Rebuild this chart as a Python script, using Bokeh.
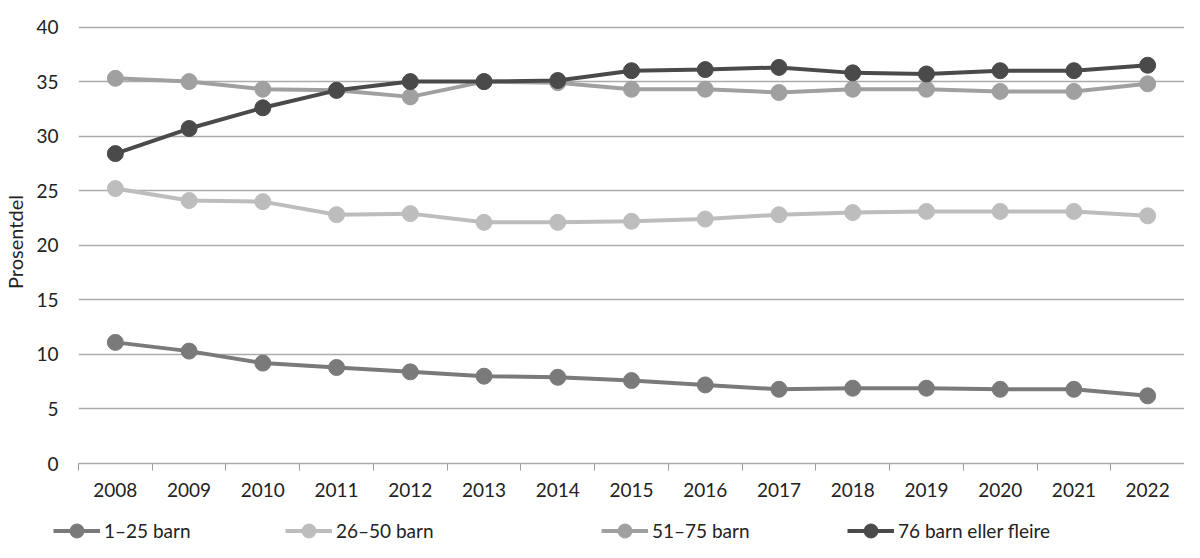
from bokeh.plotting import figure
from bokeh.models import FixedTicker, Range1d, Legend, LegendItem
from bokeh.layouts import column
from bokeh.embed import file_html
from bokeh.resources import INLINE

years = list(range(2008, 2023))
s1_25 = [11.1, 10.3, 9.2, 8.8, 8.4, 8.0, 7.9, 7.6, 7.2, 6.8, 6.9, 6.9, 6.8, 6.8, 6.2]
s26_50 = [25.2, 24.1, 24.0, 22.8, 22.9, 22.1, 22.1, 22.2, 22.4, 22.8, 23.0, 23.1, 23.1, 23.1, 22.7]
s51_75 = [35.3, 35.0, 34.3, 34.2, 33.6, 35.0, 34.9, 34.3, 34.3, 34.0, 34.3, 34.3, 34.1, 34.1, 34.8]
s76 = [28.4, 30.7, 32.6, 34.2, 35.0, 35.0, 35.1, 36.0, 36.1, 36.3, 35.8, 35.7, 36.0, 36.0, 36.5]
labels = ["1\u201325 barn", "26\u201350 barn", "51\u201375 barn", "76 barn eller fleire"]
colors = ["#7a7a7a", "#bdbdbd", "#a0a0a0", "#4a4a4a"]
y_ticks = list(range(0, 45, 5))
series = [s1_25, s26_50, s51_75, s76]

FONT = "Lato"
TXT = "#222222"

p = figure(width=1184, height=503, output_backend="svg", toolbar_location=None,
           x_range=Range1d(2007.5, 2022.5), y_range=Range1d(0, 40.6),
           min_border_left=70, min_border_right=0, min_border_top=20, min_border_bottom=40)
p.outline_line_color = None

for ys, c in zip(series, colors):
    p.line(years, ys, line_color=c, line_width=4)
    p.scatter(years, ys, size=16, fill_color=c, line_color=c)

p.xaxis.ticker = FixedTicker(ticks=years, minor_ticks=[y + 0.5 for y in range(2007, 2023)])
p.yaxis.ticker = FixedTicker(ticks=y_ticks)
p.xgrid.grid_line_color = None
p.ygrid.grid_line_color = "#ababab"
p.ygrid.grid_line_width = 1.5

for ax in (p.xaxis, p.yaxis):
    ax.major_label_text_font = FONT
    ax.major_label_text_font_size = "19px"
    ax.major_label_text_color = TXT
    ax.major_tick_line_color = None
    ax.major_tick_out = 0
    ax.major_tick_in = 0

p.xaxis.axis_line_color = "#ababab"
p.xaxis.axis_line_width = 1.5
p.xaxis.minor_tick_line_color = "#9a9a9a"
p.xaxis.minor_tick_out = 7
p.xaxis.minor_tick_in = 0
p.xaxis.major_label_standoff = 12

p.yaxis.axis_line_color = None
p.yaxis.minor_tick_line_color = None
p.yaxis.major_label_standoff = 20
p.yaxis.axis_label = "Prosentdel"
p.yaxis.axis_label_text_font = FONT
p.yaxis.axis_label_text_font_size = "20px"
p.yaxis.axis_label_text_font_style = "normal"
p.yaxis.axis_label_text_color = TXT
p.yaxis.axis_label_standoff = 6

# legend strip below the chart (its data lies outside its ranges, only the legend shows)
lp = figure(width=1184, height=47, output_backend="svg", toolbar_location=None,
            x_range=Range1d(0, 1), y_range=Range1d(0, 1),
            min_border=0, min_border_left=0, min_border_right=0,
            min_border_top=0, min_border_bottom=0)
lp.axis.visible = False
lp.grid.visible = False
lp.outline_line_color = None
for fig in (p, lp):
    if "frame_align" in fig.properties():
        fig.frame_align = False

xs_leg = [53, 285, 601, 847]
for ys, c, lab, xl in zip(series, colors, labels, xs_leg):
    l = lp.line(years, ys, line_color=c, line_width=4)
    s = lp.scatter(years, ys, size=16, fill_color=c, line_color=c)
    leg = Legend(items=[LegendItem(label=lab, renderers=[l, s])],
                 location=(xl, 2), orientation="horizontal",
                 padding=0, margin=0, border_line_color=None,
                 background_fill_alpha=0, glyph_width=47, glyph_height=35,
                 label_standoff=4, label_text_font=FONT,
                 label_text_font_size="19px", label_text_color=TXT)
    lp.add_layout(leg, "center")

open("out.html", "w").write(file_html(column(p, lp, spacing=0), INLINE))
